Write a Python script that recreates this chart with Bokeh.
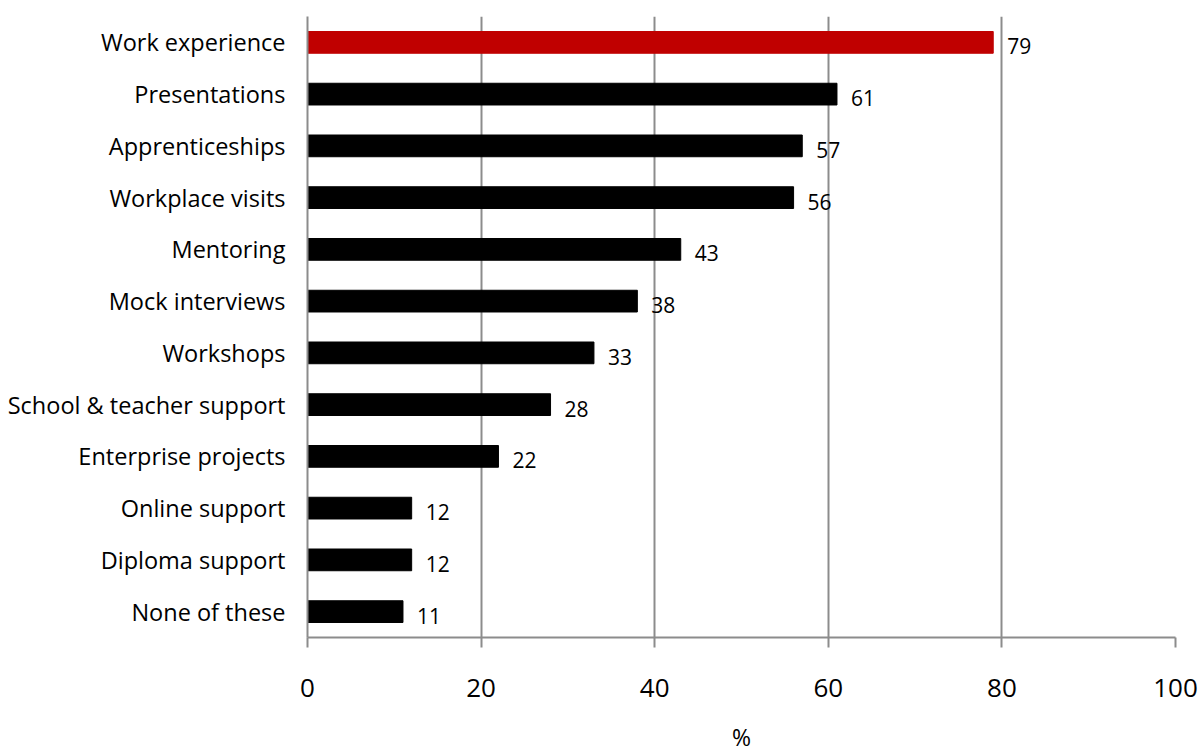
from bokeh.plotting import figure
from bokeh.layouts import column
from bokeh.models import ColumnDataSource, FactorRange, Range1d, FixedTicker
from bokeh.embed import file_html
from bokeh.resources import INLINE
from bokeh.core.properties import value

categories = ["Work experience", "Presentations", "Apprenticeships", "Workplace visits",
              "Mentoring", "Mock interviews", "Workshops", "School & teacher support",
              "Enterprise projects", "Online support", "Diploma support", "None of these"]
values = [79, 61, 57, 56, 43, 38, 33, 28, 22, 12, 12, 11]
colors = ["#C00000"] + ["#000000"] * 11
x_ticks = [0, 20, 40, 60, 80, 100]
x_title = "%"

FONT = "Open Sans"

src = ColumnDataSource(dict(cat=categories, val=values, col=colors,
                            lab=[str(v) for v in values]))

p = figure(width=1200, height=710, output_backend="svg", toolbar_location=None,
           y_range=FactorRange(*categories[::-1]), x_range=Range1d(0, 100),
           min_border_left=307, min_border_right=25, min_border_top=16, min_border_bottom=73)

p.hbar(y="cat", right="val", left=0, height=0.42, color="col", source=src)
p.text(x="val", y="cat", text="lab", source=src, x_offset=14, y_offset=4,
       text_baseline="middle", text_align="left", text_font=value(FONT),
       text_font_size="21px", text_color="#000000")

p.outline_line_color = None
p.ygrid.grid_line_color = None
p.xgrid.grid_line_color = "#8c8c8c"
p.xgrid.grid_line_width = 2
p.xgrid.ticker = FixedTicker(ticks=[20, 40, 60, 80, 100])

p.xaxis.ticker = FixedTicker(ticks=x_ticks)
p.xaxis.axis_line_color = "#8c8c8c"
p.xaxis.axis_line_width = 2
p.xaxis.major_tick_line_color = "#8c8c8c"
p.xaxis.major_tick_line_width = 2
p.xaxis.major_tick_out = 10
p.xaxis.major_tick_in = 0
p.xaxis.minor_tick_line_color = None
p.xaxis.major_label_text_font = FONT
p.xaxis.major_label_text_font_size = "26px"
p.xaxis.major_label_text_color = "#000000"
p.xaxis.major_label_standoff = 31

p.yaxis.axis_line_color = "#8c8c8c"
p.yaxis.axis_line_width = 2
p.yaxis.major_tick_line_color = None
p.yaxis.major_tick_out = 0
p.yaxis.major_tick_in = 0
p.yaxis.major_label_text_font = FONT
p.yaxis.major_label_text_font_size = "23.5px"
p.yaxis.major_label_text_color = "#000000"
p.yaxis.major_label_standoff = 22

# axis title strip below the chart
p2 = figure(width=1200, height=44, output_backend="svg", toolbar_location=None,
            x_range=p.x_range, y_range=Range1d(-0.63, 1),
            min_border_left=307, min_border_right=25, min_border_top=0, min_border_bottom=0)
p2.axis.visible = False
p2.grid.visible = False
p2.outline_line_color = None
p2.text(x=[50], y=[0], text=[x_title], text_align="center", text_baseline="middle",
        text_font=value(FONT), text_font_size="23px", text_color="#000000")

layout = column(p, p2, spacing=0)
open("out.html", "w").write(file_html(layout, INLINE))
